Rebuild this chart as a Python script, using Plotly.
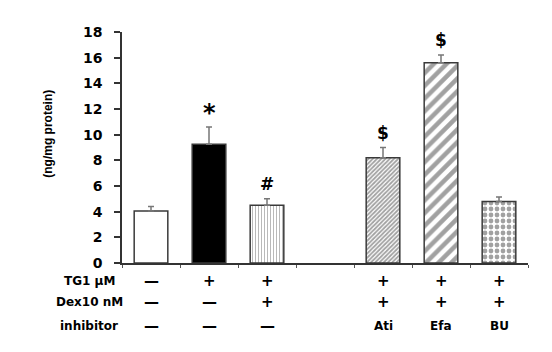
import plotly.graph_objects as go

# ---- data ----
categories = ["Control", "TG", "TG+Dex", " ", "TG+Dex+Ati", "TG+Dex+Efa", "TG+Dex+BU"]
values = [4.05, 9.25, 4.5, None, 8.2, 15.6, 4.8]
errors = [0.35, 1.35, 0.5, None, 0.8, 0.6, 0.35]
sig_marks = ["", "*", "#", "", "$", "$", ""]
y_ticks = [0, 2, 4, 6, 8, 10, 12, 14, 16, 18]

row_labels = ["TG1 \u03bcM", "Dex10 nM", "inhibitor"]
row_tg = ["\u2014", "+", "+", "", "+", "+", "+"]
row_dex = ["\u2014", "\u2014", "+", "", "+", "+", "+"]
row_inh = ["\u2014", "\u2014", "\u2014", "", "Ati", "Efa", "BU"]

# ---- styles ----
fill_colors = ["white", "black", "white", "white", "white", "white", "white"]
pat_shapes = ["", "", "|", "", "/", "/", "."]
pat_fg = ["black", "black", "#a0a0a0", "black", "#222222", "#000000", "#000000"]
pat_size = [6, 6, 3, 6, 3, 9, 6]
pat_solid = [0.3, 0.3, 0.25, 0.3, 0.6, 0.5, 0.5]

FONT = "DejaVu Sans"

fig = go.Figure()
fig.add_trace(go.Bar(
    x=categories, y=values,
    width=0.58,
    marker=dict(
        color=fill_colors,
        line=dict(color="#3a3a3a", width=1.5),
        pattern=dict(shape=pat_shapes, fgcolor=pat_fg, size=pat_size,
                     solidity=pat_solid, fillmode="overlay"),
    ),
    error_y=dict(type="data", array=errors, symmetric=False,
                 arrayminus=[0] * len(errors),
                 color="#777777", thickness=1.5, width=3),
    showlegend=False,
))

# significance marks above bars
for c, v, e, s in zip(categories, values, errors, sig_marks):
    if s and v is not None:
        big = s == "*"
        fig.add_annotation(x=c, y=v + e, xref="x", yref="y", text=s,
                           showarrow=False, yanchor="bottom", yshift=-2 if big else 3,
                           font=dict(family=FONT, size=24 if big else 17,
                                     color="black", weight="bold"))

# table under the axis
row_y = [-0.078, -0.169, -0.272]
for label, row, yy in zip(row_labels, [row_tg, row_dex, row_inh], row_y):
    fig.add_annotation(x=-0.081, y=yy, xref="paper", yref="paper", text=label,
                       showarrow=False, xanchor="center", yanchor="middle",
                       font=dict(family=FONT, size=12, color="black", weight="bold"))
    for c, t in zip(categories, row):
        if t:
            fig.add_annotation(x=c, y=yy, xref="x", yref="paper", text=t,
                               showarrow=False, xanchor="center", yanchor="middle",
                               font=dict(family=FONT, size=15 if t in ("+", "\u2014") else 12,
                                         color="black", weight="bold"))

# y-axis title
fig.add_annotation(x=-0.182, y=0.56, xref="paper", yref="paper",
                   text="(ng/mg protein)", textangle=-90, showarrow=False,
                   xanchor="center", yanchor="middle",
                   font=dict(family="Liberation Sans", size=12, color="black", weight="bold"))

fig.update_layout(
    width=544, height=344,
    margin=dict(l=114, r=24, t=24, b=89),
    paper_bgcolor="white", plot_bgcolor="white",
    font=dict(family=FONT, color="black"),
)
fig.update_xaxes(
    type="category", categoryorder="array", categoryarray=categories,
    range=[-0.5, len(categories) - 0.5],
    showline=True, linecolor="#333333", linewidth=1.5,
    ticks="outside", tickson="boundaries", ticklen=3, tickcolor="#555555",
    showticklabels=False, showgrid=False, zeroline=False,
)
fig.update_yaxes(
    range=[0, 18], tickvals=y_ticks,
    showline=True, linecolor="#333333", linewidth=1.5,
    ticks="outside", ticklen=6, tickcolor="#333333", tickwidth=1.5,
    tickfont=dict(family=FONT, size=14, color="black", weight="bold"),
    ticklabelstandoff=9,
    showgrid=False, zeroline=False,
)

fig.write_html("out.html")
